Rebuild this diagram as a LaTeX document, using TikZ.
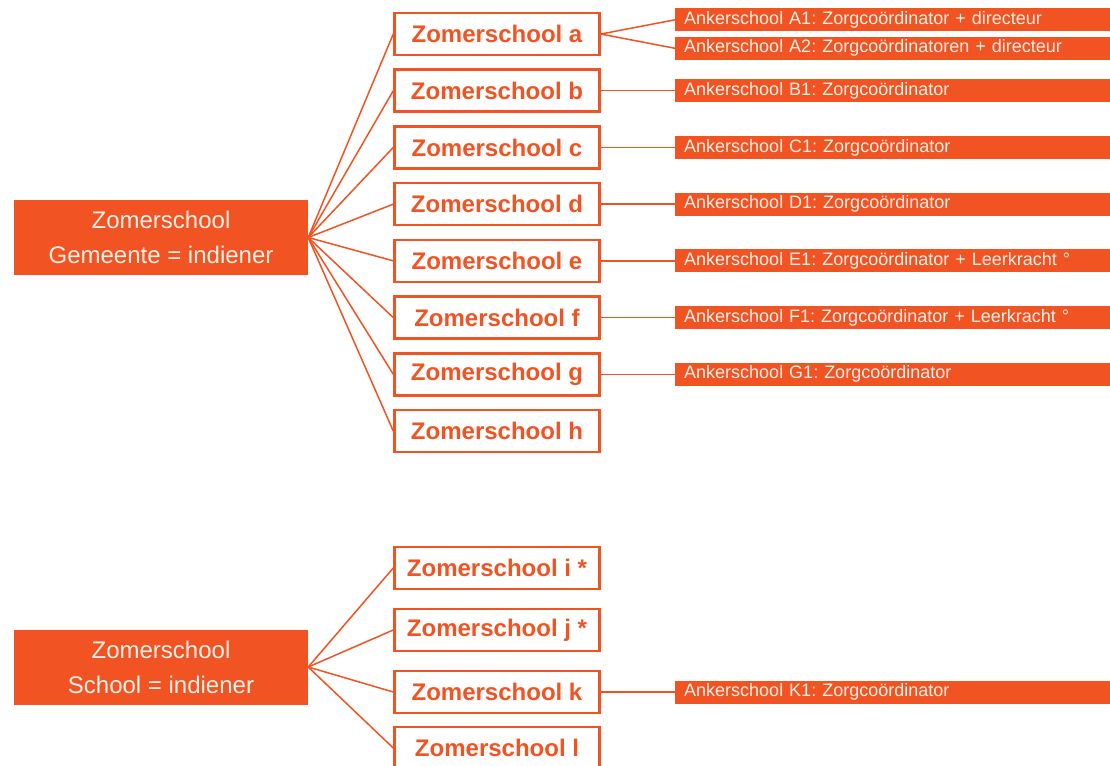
\documentclass[tikz,border=0pt]{standalone}
\usepackage{fontspec}
\setmainfont{Liberation Sans}
\definecolor{zorange}{RGB}{241,83,35}
\definecolor{zcream}{RGB}{255,241,232}
\frenchspacing

\begin{document}
\begin{tikzpicture}[x=1pt,y=-1pt,
   grow'=right,
       edge from parent path=
    {(\tikzparentnode.east) -- (\tikzchildnode.west)},
   edge from parent/.style={draw,zorange,line width=1.5pt},
   rootbox/.style={fill=zorange,text=zcream,minimum width=294pt,
      minimum height=75pt,inner sep=0pt,align=center,
      font=\fontsize{24}{35}\selectfont},
   zbox/.style={draw=zorange,line width=2.5pt,fill=white,text=zorange,
      minimum width=205pt,minimum height=42pt,inner sep=0pt,
      font=\fontsize{24}{29}\selectfont\bfseries},
   ankerbox/.style={fill=zorange,text=zcream,anchor=west,minimum height=23pt,
      text width=417pt,inner xsep=9pt,inner ysep=0pt,align=left,
      font=\fontsize{18}{22}\selectfont},
   level 1/.style={level distance=336pt},
   level 2/.style={level distance=178pt,sibling distance=28.5pt}]

\useasboundingbox (0,0) rectangle (1110,765);
\clip (0,0) rectangle (1110,765);

\node[rootbox] (gemeente) at (161,237.5) {Zomerschool\\Gemeente = indiener}
   [sibling distance=56.7pt]
    child[yshift=5pt] {node[zbox] (za) {Zomerschool a}
       child {node[ankerbox] (a1) {Ankerschool A1: Zorgcoördinator + directeur}}
       child {node[ankerbox] (a2) {Ankerschool A2: Zorgcoördinatoren + directeur}}}
    child[yshift=5pt] {node[zbox] (zb) {Zomerschool b}
       child {node[ankerbox] (b1) {Ankerschool B1: Zorgcoördinator}}}
    child[yshift=5pt] {node[zbox] (zc) {Zomerschool c}
       child {node[ankerbox] (c1) {Ankerschool C1: Zorgcoördinator}}}
    child[yshift=5pt] {node[zbox] (zd) {Zomerschool d}
       child {node[ankerbox] (d1) {Ankerschool D1: Zorgcoördinator}}}
    child[yshift=5pt] {node[zbox] (ze) {Zomerschool e}
       child {node[ankerbox] (e1) {Ankerschool E1: Zorgcoördinator + Leerkracht °}}}
    child[yshift=5pt] {node[zbox] (zf) {Zomerschool f}
       child {node[ankerbox] (f1) {Ankerschool F1: Zorgcoördinator + Leerkracht °}}}
    child[yshift=5pt] {node[zbox] (zg) {Zomerschool g}
       child {node[ankerbox] (g1) {Ankerschool G1: Zorgcoördinator}}}
    child[yshift=5pt] {node[zbox] (zh) {Zomerschool h}
    };

\node[rootbox] (school) at (161,667) {Zomerschool\\School = indiener}
   [sibling distance=62pt]
    child[yshift=6pt] {node[zbox] (zi) {Zomerschool i *}}
    child[yshift=6pt] {node[zbox] (zj) {Zomerschool j *}}
    child[yshift=6pt] {node[zbox] (zk) {Zomerschool k}
       child {node[ankerbox] (k1) {Ankerschool K1: Zorgcoördinator}}}
    child[yshift=12pt] {node[zbox] (zl) {Zomerschool l}
    };

\end{tikzpicture}
\end{document}
